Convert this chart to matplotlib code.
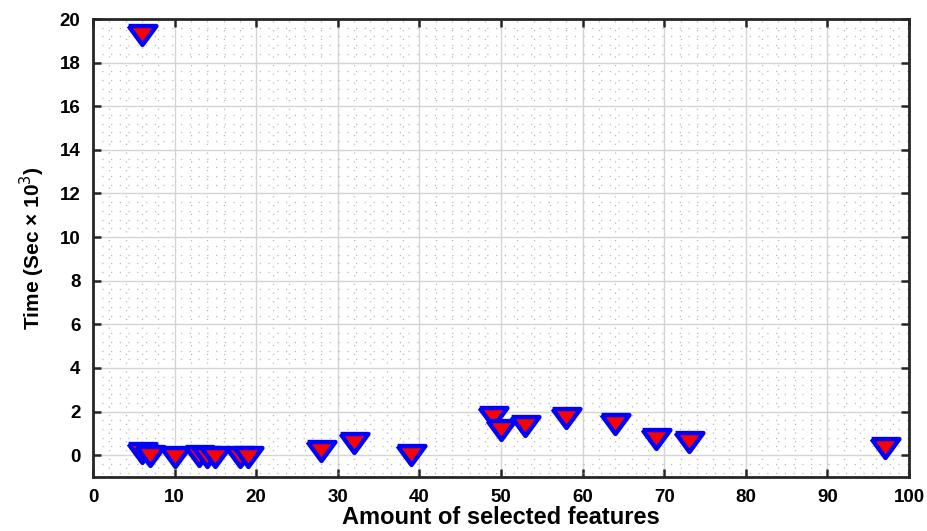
import numpy as np
import matplotlib.pyplot as plt
from matplotlib.ticker import MultipleLocator

plt.rcParams['font.family'] = ['Liberation Sans', 'DejaVu Sans']

# Amount of selected features vs time (sec x 10^3)
n_features = [6, 6, 7, 10, 13, 14, 15, 18, 19, 28, 32, 39, 49, 50, 53, 58, 64, 69, 73, 97]
time_k = [19.25, 0.12, -0.03, -0.08, -0.03, -0.08, -0.08, -0.08, -0.08, 0.17, 0.55, 0.02,
          1.74, 1.15, 1.34, 1.69, 1.42, 0.72, 0.59, 0.31]

# flattened down-pointing triangle (the original figure was stretched sideways)
flat_tri = [(-1, 0.68), (1, 0.68), (0, -0.68), (-1, 0.68)]

fig = plt.figure(figsize=(9.27, 5.31), dpi=100)
ax = fig.add_axes([0.1003, 0.1017, 0.8803, 0.8625])

ax.plot(n_features, time_k, linestyle='none', marker=flat_tri, markersize=20,
        markerfacecolor='red', markeredgecolor='blue', markeredgewidth=3.2, zorder=3)

ax.set_xlim(0, 100)
ax.set_ylim(-1, 20)
ax.xaxis.set_major_locator(MultipleLocator(10))
ax.yaxis.set_major_locator(MultipleLocator(2))
ax.xaxis.set_minor_locator(MultipleLocator(2))
ax.yaxis.set_minor_locator(MultipleLocator(0.4))

ax.grid(which='major', color='#d4d4d4', linewidth=1.0, linestyle='-')
ax.grid(which='minor', color='#b8b8b8', linewidth=0.9, linestyle=(0, (1, 6)))
ax.set_axisbelow(True)

ax.tick_params(which='major', direction='in', length=6, width=1.8, top=True, right=True,
               labelsize=13.5, colors='#262626')
ax.tick_params(axis='x', which='major', pad=9)
ax.tick_params(axis='y', which='major', pad=9)
ax.tick_params(which='minor', length=0, top=True, right=True)
for lbl in ax.get_xticklabels() + ax.get_yticklabels():
    lbl.set_fontweight('bold')
    lbl.set_color('black')
for sp in ax.spines.values():
    sp.set_linewidth(2)
    sp.set_color('#262626')

ax.set_xlabel('Amount of selected features', fontsize=17, fontweight='bold', labelpad=0)
ax.set_ylabel('Time (Sec × 10$^3$)', fontsize=15, fontweight='bold', labelpad=9)

fig.savefig('out.png', dpi=100)
